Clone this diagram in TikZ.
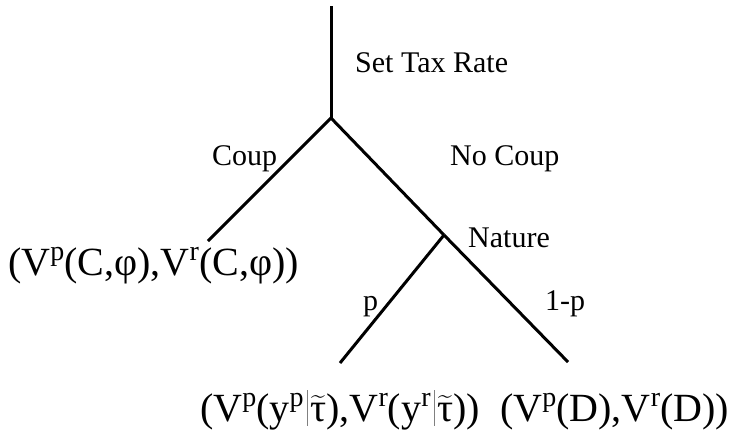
\documentclass[tikz,border=0pt]{standalone}
\usepackage{amsmath}
\usepackage{fontspec}
\setmainfont{Liberation Serif}
\newcommand{\supx}[1]{\raisebox{0.36em}{\fontsize{28}{30}\selectfont #1}}
\newcommand{\tildetau}{$\widetilde{\text{τ}}$}
\newcommand{\gbar}{\hspace{3pt}\textcolor{gray}{\rule[-0.12em]{0.6pt}{0.9em}}\hspace{3pt}}
\begin{document}
\begin{tikzpicture}[x=1pt,y=-1pt,
  branch/.style={line width=3pt,line cap=butt},
  lbl/.style={anchor=base west,inner sep=0pt,font=\fontsize{30}{36}\selectfont},
  pay/.style={anchor=base west,inner sep=0pt,font=\fontsize{40}{44}\selectfont}]
\useasboundingbox (0,0) rectangle (733,432);
\coordinate (top) at (331,6);
\coordinate (root) at (331,118);
\coordinate (cl) at (208,241);
\coordinate (nat) at (444,235);
\coordinate (pe) at (340,363);
\coordinate (qe) at (568,362);
\draw[branch] (top) -- (root);
\draw[branch] (root) -- (cl);
\draw[branch] (root) -- (nat);
\draw[branch] (nat) -- (qe);
\draw[branch] (nat) -- (pe);
\node[lbl] (settax) at (355,72) {Set Tax Rate};
\node[lbl] (coup) at (212,165) {Coup};
\node[lbl] (nocoup) at (450,165) {No Coup};
\node[lbl] (nature) at (468,247) {Nature};
\node[lbl] (plbl) at (363,310) {p};
\node[lbl] (qlbl) at (545,310) {1-p};
\node[pay] (payc) at (8,275) {(V\supx{p}(C,φ),V\supx{r}(C,φ))};
\node[pay] (payp) at (200,421) {(V\supx{p}(y\supx{p}\gbar\tildetau),V\supx{r}(y\supx{r}\gbar\tildetau))};
\node[pay] (payq) at (500,421) {(V\supx{p}(D),V\supx{r}(D))};
\end{tikzpicture}
\end{document}
